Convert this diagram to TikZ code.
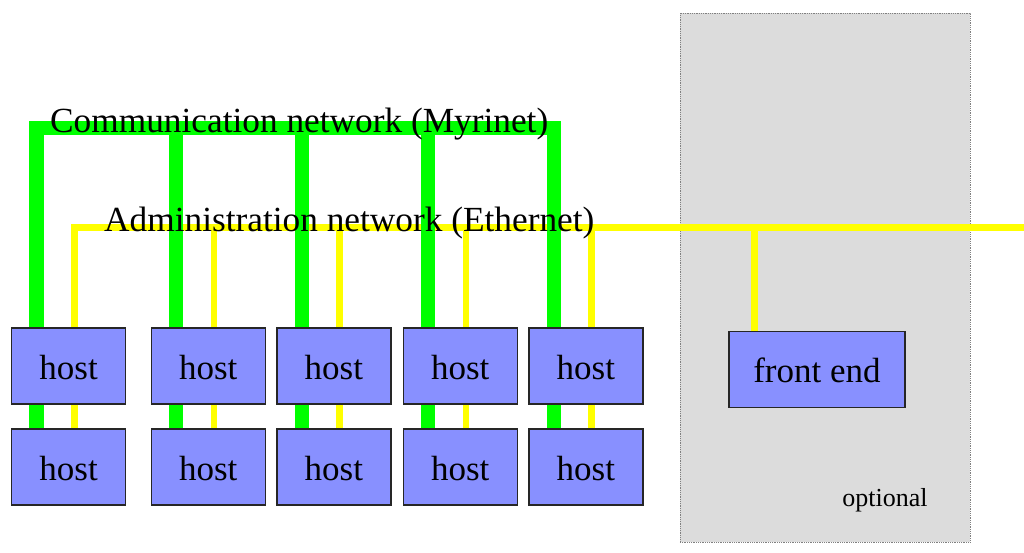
\documentclass[tikz,border=0pt]{standalone}
\usepackage{fontspec}
\setmainfont{Liberation Serif}
\usetikzlibrary{calc}
\definecolor{hostblue}{RGB}{136,144,255}
\definecolor{netgreen}{RGB}{0,255,0}
\definecolor{netyellow}{RGB}{255,255,0}
\definecolor{optgray}{RGB}{220,220,220}
\pgfdeclarelayer{areas}
\pgfdeclarelayer{wires}
\pgfsetlayers{areas,wires,main}
\begin{document}
\begin{tikzpicture}[x=1pt,y=-1pt,
  host/.style={draw=black!85, line width=1.2pt, fill=hostblue, minimum width=114pt, minimum height=76pt, anchor=north west, inner sep=0pt, text height=27pt, text depth=0pt, font=\fontsize{35}{40}\selectfont},
  gnet/.style={draw=netgreen, line width=14.5pt, line join=miter},
  ynet/.style={draw=netyellow, line width=6.8pt, line join=miter},
  bigtext/.style={anchor=base west, inner sep=0pt, font=\fontsize{35.3}{40}\selectfont}]
\useasboundingbox (0,0) rectangle (1024,552);
% hosts
\foreach \x [count=\i] in {11,150.7,276.3,402.7,528.3} {
  \node[host] (h\i a) at (\x,327.3) {host};
  \node[host] (h\i b) at (\x,428.3) {host};
  \coordinate (g\i) at ($(h\i a.north west)+(25.5,0)$);
  \coordinate (y\i) at ($(h\i a.north west)+(63.2,0)$);
}
\node[host, minimum width=176pt] (fe) at (728.3,330.7) {front end};
\coordinate (yfe) at ($(fe.north west)+(26.2,0)$);
\coordinate (gbus) at (0,128);
\coordinate (ybus) at (0,227.5);
\coordinate (yend) at (1024,227.5);
% optional area
\begin{pgfonlayer}{areas}
\node[draw=black!50, densely dotted, line width=0.8pt, fill=optgray, minimum width=290pt, minimum height=529pt, anchor=north west, inner sep=0pt] (opt) at (679.5,13) {};
\end{pgfonlayer}
\node[anchor=base, inner sep=0pt, font=\fontsize{26}{30}\selectfont] (optlabel) at (885,506.5) {optional};
\begin{pgfonlayer}{wires}
% administration network
\draw[ynet] (y1) -- (y1 |- ybus) -- (yend);
\foreach \i in {2,...,5} { \draw[ynet] (y\i) -- (y\i |- ybus); }
\draw[ynet] (yfe) -- (yfe |- ybus);
\foreach \i in {1,...,5} { \draw[ynet] (y\i |- h\i a.south) -- (y\i |- h\i b.north); }
% communication network
\draw[gnet] (g1) -- (g1 |- gbus) -- (g5 |- gbus) -- (g5);
\foreach \i in {2,...,4} { \draw[gnet] (g\i) -- (g\i |- gbus); }
\foreach \i in {1,...,5} { \draw[gnet] (g\i |- h\i a.south) -- (g\i |- h\i b.north); }
\end{pgfonlayer}
% labels
\node[bigtext] (comm) at (50,132) {Communication network (Myrinet)};
\node[bigtext] (admin) at (104,231) {Administration network (Ethernet)};
\end{tikzpicture}
\end{document}
